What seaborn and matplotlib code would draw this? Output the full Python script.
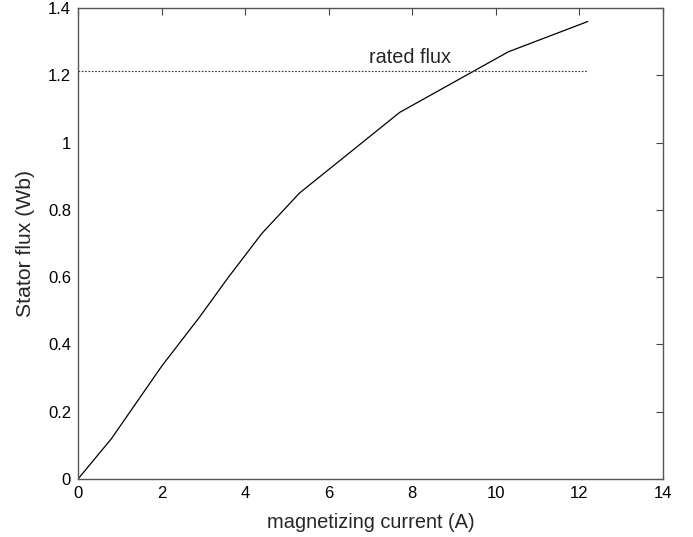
import matplotlib
matplotlib.use("Agg")
import matplotlib.pyplot as plt
import seaborn as sns
import pandas as pd

current = [0.0, 0.8, 2.0, 2.9, 3.6, 4.4, 5.3, 6.5, 7.7, 9.0, 10.3, 12.2]
flux = [0.0, 0.12, 0.335, 0.48, 0.60, 0.73, 0.85, 0.97, 1.09, 1.18, 1.27, 1.36]
rated_x = [0.0, 12.2]
rated_y = [1.212, 1.212]
xticks = [0, 2, 4, 6, 8, 10, 12, 14]
yticks = [0, 0.2, 0.4, 0.6, 0.8, 1.0, 1.2, 1.4]
yticklabels = ["0", "0.2", "0.4", "0.6", "0.8", "1", "1.2", "1.4"]

sns.set_theme(style="white")
plt.rcParams['font.family'] = ['Liberation Sans', 'DejaVu Sans']

fig = plt.figure(figsize=(6.93, 5.37), dpi=100)
ax = fig.add_axes([0.1126, 0.108, 0.8441, 0.877])

df = pd.DataFrame({"current": current, "flux": flux})
sns.lineplot(data=df, x="current", y="flux", ax=ax, color="black", linewidth=0.9,
             sort=False, estimator=None)
ax.plot(rated_x, rated_y, color="#333333", linestyle=(0, (1.5, 1.5)), linewidth=0.8)
ax.text(7.94, 1.237, "rated flux", ha="center", va="baseline", fontsize=14.3)

ax.set_xlim(0, 14)
ax.set_ylim(0, 1.4)
ax.set_xticks(xticks)
ax.set_xticklabels([str(t) for t in xticks])
ax.set_yticks(yticks)
ax.set_yticklabels(yticklabels)
ax.tick_params(direction="in", length=5, width=0.8, color="#444444",
               labelsize=12, top=True, right=True, labeltop=False, labelright=False,
               labelcolor="black", pad=5)
for s in ax.spines.values():
    s.set_color("#555555")
    s.set_linewidth(1.0)
ax.set_xlabel("magnetizing current (A)", fontsize=14.4, labelpad=9)
ax.set_ylabel("Stator flux (Wb)", fontsize=15.2, labelpad=9)

fig.savefig("out.png", dpi=100)
